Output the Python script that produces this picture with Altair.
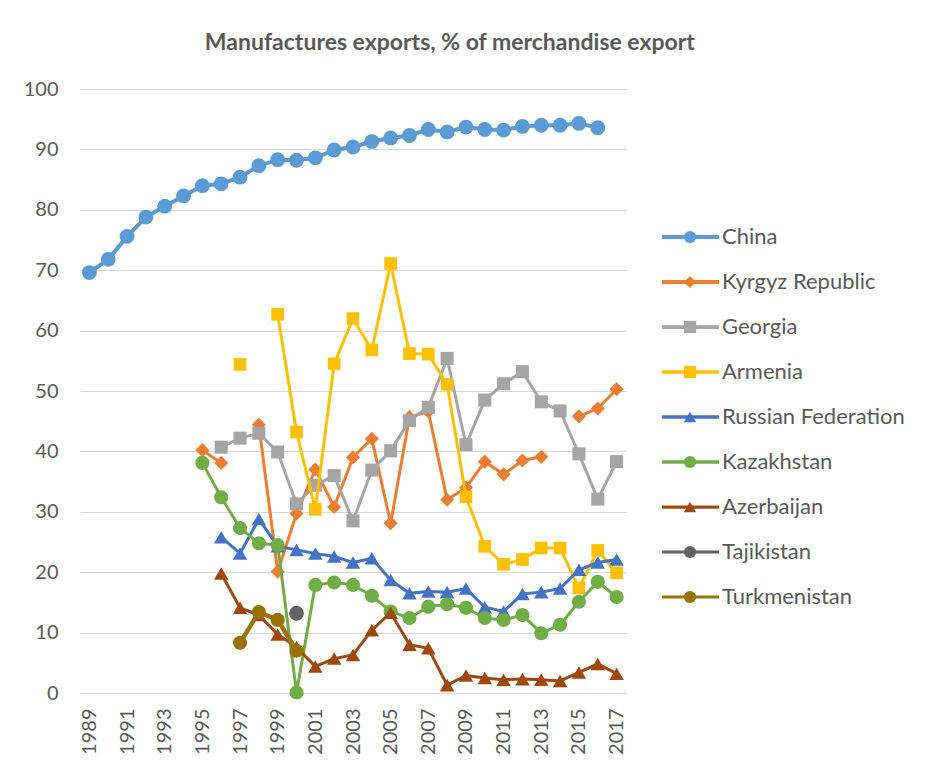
import altair as alt
import pandas as pd

# ---------------- data ----------------
years = list(range(1989, 2018))
label_years = list(range(1989, 2018, 2))
series_names = ["China", "Kyrgyz Republic", "Georgia", "Armenia", "Russian Federation",
                "Kazakhstan", "Azerbaijan", "Tajikistan", "Turkmenistan"]
N = None
china = [69.6, 71.8, 75.6, 78.8, 80.6, 82.3, 84.0, 84.3, 85.4, 87.3, 88.3, 88.2, 88.6, 89.9,
         90.4, 91.3, 91.9, 92.3, 93.3, 92.9, 93.7, 93.3, 93.2, 93.8, 94.0, 94.0, 94.3, 93.6, N]
kyrgyz = [N, N, N, N, N, N, 40.2, 38.1, N, 44.4, 20.1, 29.7, 37.0, 30.8, 39.0, 42.1, 28.1,
          45.7, 46.6, 32.0, 34.0, 38.3, 36.2, 38.5, 39.1, N, 45.8, 47.1, 50.3]
georgia = [N, N, N, N, N, N, N, 40.7, 42.2, 43.0, 39.9, 31.3, 34.4, 36.0, 28.5, 36.9, 40.1,
           45.1, 47.3, 55.4, 41.1, 48.5, 51.2, 53.2, 48.2, 46.7, 39.6, 32.1, 38.3]
armenia = [N, N, N, N, N, N, N, N, 54.4, N, 62.7, 43.2, 30.4, 54.5, 62.0, 56.8, 71.1,
           56.2, 56.1, 51.1, 32.5, 24.3, 21.3, 22.1, 24.0, 24.0, 17.4, 23.6, 19.9]
russia = [N, N, N, N, N, N, N, 25.8, 23.1, 28.8, 24.3, 23.7, 23.1, 22.6, 21.6, 22.3, 18.7,
          16.5, 16.8, 16.7, 17.3, 14.2, 13.5, 16.4, 16.7, 17.3, 20.4, 21.6, 22.1]
kazakhstan = [N, N, N, N, N, N, 38.1, 32.4, 27.3, 24.8, 24.5, 0.1, 17.9, 18.3, 17.9, 16.1, 13.5,
              12.4, 14.3, 14.7, 14.1, 12.4, 12.1, 12.9, 9.9, 11.3, 15.1, 18.4, 15.9]
azerbaijan = [N, N, N, N, N, N, N, 19.8, 14.1, 12.9, 9.7, 7.6, 4.4, 5.7, 6.3, 10.4, 13.3,
              8.0, 7.4, 1.3, 2.9, 2.5, 2.2, 2.3, 2.2, 2.0, 3.4, 4.8, 3.2]
tajikistan = [N, N, N, N, N, N, N, N, N, N, N, 13.2, N, N, N, N, N,
              N, N, N, N, N, N, N, N, N, N, N, N]
turkmenistan = [N, N, N, N, N, N, N, N, 8.3, 13.4, 12.1, 7.0, N, N, N, N, N,
                N, N, N, N, N, N, N, N, N, N, N, N]
series_values = [china, kyrgyz, georgia, armenia, russia, kazakhstan, azerbaijan,
                 tajikistan, turkmenistan]

# ---------------- styles ----------------
colors = ["#5B9BD5", "#ED7D31", "#A5A5A5", "#FFC000", "#4472C4", "#70AD47", "#9E480E",
          "#636363", "#997300"]
shapes = ["circle", "diamond", "square", "square", "triangle-up", "circle", "triangle-up",
          "circle", "circle"]
line_widths = [4, 3, 3, 3, 3, 3, 3, 4, 4.5]
marker_sizes = [220, 200, 170, 160, 210, 200, 210, 220, 200]

FONT = "Lato"
TXT = "#595959"
title_text = "Manufactures exports, % of merchandise export"

rows = []
for name, vals in zip(series_names, series_values):
    seg = 0
    for yr, v in zip(years, vals):
        if v is None:
            seg += 1
            continue
        rows.append({"series": name, "year": yr, "value": v, "seg": seg})
df = pd.DataFrame(rows)

x_enc = alt.X("year:Q",
              scale=alt.Scale(domain=[1988.5, 2017.5], nice=False, zero=False),
              axis=alt.Axis(values=label_years, format="d", labelAngle=-90, grid=False,
                            ticks=False, domain=False, labelPadding=15, labelFontSize=20,
                            labelColor=TXT, labelFont=FONT, title=None, labelOverlap=False))
y_enc = alt.Y("value:Q",
              scale=alt.Scale(domain=[0, 100], nice=False),
              axis=alt.Axis(values=list(range(0, 101, 10)), grid=True, gridColor="#D9D9D9",
                            gridWidth=1.2, ticks=False, domain=False, labelPadding=22,
                            labelFontSize=20, labelColor=TXT, labelFont=FONT, title=None,
                            minExtent=71, maxExtent=71))

layers = []
for i, name in enumerate(series_names):
    base = alt.Chart(df[df.series == name])
    line = base.mark_line(color=colors[i], strokeWidth=line_widths[i]).encode(
        x=x_enc, y=y_enc, detail="seg:N")
    pts = base.mark_point(shape=shapes[i], filled=True, size=marker_sizes[i],
                          color=colors[i], opacity=1).encode(x=x_enc, y=y_enc)
    layers += [line, pts]
main = alt.layer(*layers).properties(width=546, height=604)

# ---------------- legend panel ----------------
leg_df = pd.DataFrame({"series": series_names, "idx": list(range(len(series_names)))})
lo = -148 / 45
ly = alt.Y("idx:Q", scale=alt.Scale(domain=[lo, lo + 604 / 45], reverse=True, nice=False,
                                    zero=False), axis=None)
cscale = alt.Scale(domain=series_names, range=colors)
leg_base = alt.Chart(leg_df)
leg_line = leg_base.mark_rule().encode(
    x=alt.value(23), x2=alt.value(80), y=ly,
    color=alt.Color("series:N", scale=cscale, legend=None),
    strokeWidth=alt.StrokeWidth("series:N", scale=alt.Scale(domain=series_names,
                                                            range=line_widths), legend=None))
leg_pts = leg_base.mark_point(filled=True, opacity=1).encode(
    x=alt.value(51), y=ly,
    color=alt.Color("series:N", scale=cscale, legend=None),
    shape=alt.Shape("series:N", scale=alt.Scale(domain=series_names, range=shapes), legend=None),
    size=alt.Size("series:N", scale=alt.Scale(domain=series_names, range=[150] * 9), legend=None))
leg_text = leg_base.mark_text(align="left", baseline="middle", font=FONT, fontSize=22,
                              color=TXT).encode(x=alt.value(83), y=ly, text="series:N")
legend = alt.layer(leg_line, leg_pts, leg_text).properties(width=250, height=604)

chart = alt.hconcat(main, legend, spacing=10).properties(
    title=alt.TitleParams(title_text, fontSize=23, font=FONT, fontWeight="bold", color=TXT,
                          anchor="middle", offset=24, dx=-7),
    padding={"left": 0, "top": 23, "right": 0, "bottom": 0},
    background="white",
).configure_view(stroke="transparent")

chart.save("out.html", embed_options={"renderer": "svg", "actions": False})
